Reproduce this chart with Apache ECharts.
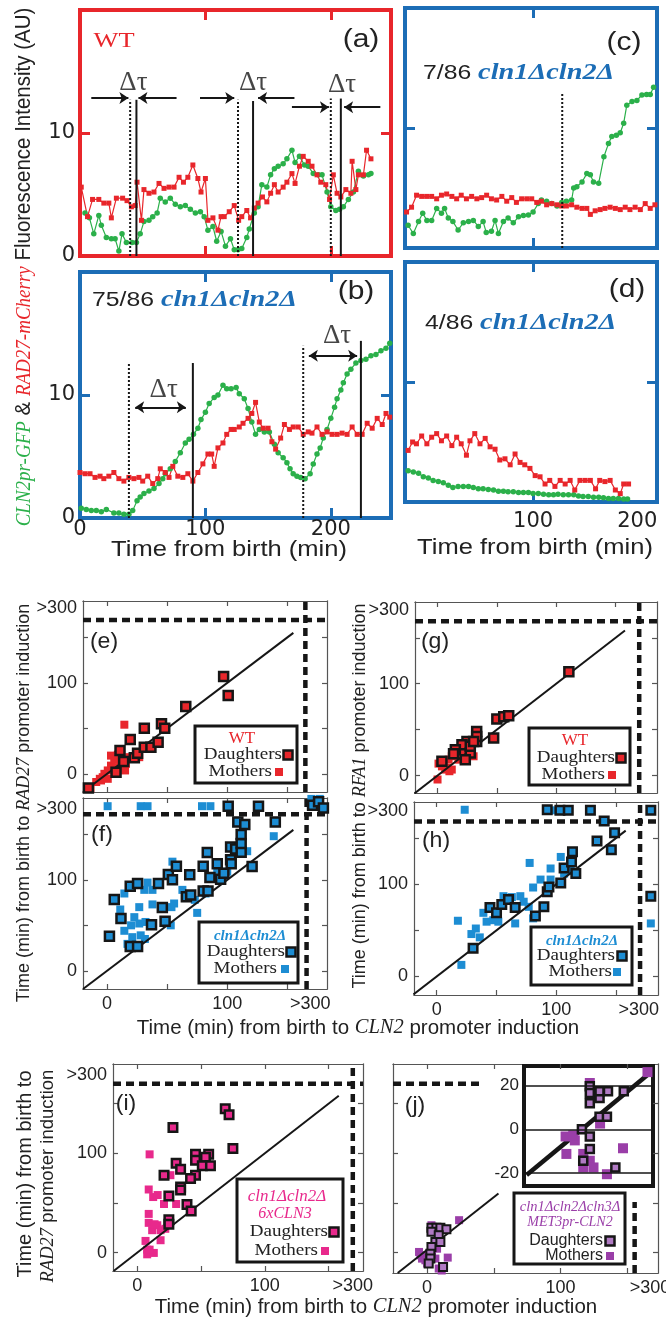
<!DOCTYPE html>
<html><head><meta charset="utf-8">
<script src="https://cdn.jsdelivr.net/npm/echarts@6/dist/echarts.min.js"></script>
<style>html,body{margin:0;padding:0;background:#fff}#c{width:666px;height:1328px}</style>
</head><body><div id="c"></div><script>
// ---------- time traces (min, AU) ----------
const aRed=[[1,5.6],[6,3.2],[10,4.6],[15,4.6],[19,4.3],[23,4.3],[25,3.1],[29,4.7],[34,4.7],[37.5,4.5],[41,4.0],[44,4.1],[45.5,6.0],[49,2.9],[51,5.4],[55,5.1],[59,5.2],[63,5.9],[67,5.5],[71,5.6],[75,5.6],[79,6.4],[82.5,6.0],[86,6.4],[90,7.4],[94,6.3],[96.5,5.2],[100,6.3],[102,2.9],[106,3.1],[110,2.1],[112.5,3.2],[115,3.2],[119,3.6],[123,4.1],[126.5,2.9],[129,3.2],[133,3.7],[136,3.1],[139,3.9],[142,4.3],[145.5,4.8],[149,4.4],[152,5.1],[155,5.8],[158,5.2],[162,5.6],[165,6.0],[169,6.7],[171.5,5.9],[175,7.3],[178,8.1],[182,7.7],[185,7.3],[189,6.6],[192,6.0],[196,5.8],[199,4.6],[202,6.6],[205,5.1],[208,4.8],[212,5.4],[216,5.1],[217,7.7],[220,5.4],[222,6.6],[226,6.6],[228.5,8.6],[232,7.9]];
const aGreen=[[4,3.5],[7.5,3.1],[11,1.8],[15,3.3],[17,2.5],[21,1.5],[25,1.4],[28,1.4],[31,0.4],[33.5,1.8],[37,1.1],[41.5,1.1],[45,1.1],[48,1.8],[51,2.8],[55,2.9],[58,3.2],[61.5,3.5],[64,4.7],[68,4.4],[72,4.7],[76,4.2],[80,4.0],[84,4.1],[88,3.8],[92,3.5],[96,3.6],[99,3.2],[102,2.1],[106,2.4],[109,1.2],[112.5,2.0],[116,0.8],[120,1.4],[123,0.5],[126,0.5],[129,0.6],[133,1.5],[135,2.2],[139,3.5],[142,4.0],[145,5.8],[149,5.6],[152,6.6],[155,7.1],[158,7.3],[162,7.5],[165,7.9],[169,8.6],[171.5,7.6],[175,8.1],[179,7.4],[182,7.3],[186,6.7],[190,6.6],[193,6.6],[197,5.2],[200,4.0],[204,3.7],[207,3.8],[210,4.0],[214,4.6],[218,5.2],[222,6.9],[226,6.5],[230,6.6],[232,6.7]];
const bRed=[[0,3.7],[4,3.6],[8,3.6],[12,3.3],[16,3.4],[19,3.2],[23,3.4],[27,3.7],[31,3.2],[35,3.0],[39,3.3],[43,3.2],[47,3.3],[50,3.0],[54,3.4],[58,2.8],[62,3.2],[64,4.0],[68,3.7],[71,3.3],[74,4.2],[78,3.4],[82,3.3],[86,3.6],[90,3.0],[94,3.7],[98,4.4],[102,5.2],[105,5.2],[107,4.2],[110,5.7],[114,6.1],[117,6.8],[120.5,7.2],[123,7.2],[127,7.4],[130,7.7],[134,8.1],[137,8.5],[140,9.4],[143,7.8],[146,7.3],[150,7.3],[153,6.2],[156,5.6],[160,6.5],[163,7.6],[167,7.2],[170,7.4],[174,7.4],[178,6.8],[182,7.0],[185,6.9],[189,7.4],[193,6.8],[197,7.0],[201,6.8],[205,6.8],[209,6.9],[213,6.8],[217,7.4],[221,6.8],[225,6.8],[229,7.7],[233,7.3],[237,8.1],[241,7.6],[244,8.5],[247,8.2]];
const bGreen=[[1,0.8],[5,0.7],[9,0.6],[13,0.6],[17,0.5],[21,0.7],[27,0.4],[31,0.4],[35,0.3],[39,0.3],[42,0.6],[45.5,1.4],[48,1.7],[51,2.0],[55,2.2],[59,2.4],[63,2.8],[66,3.2],[68,3.6],[72,4.0],[76,4.6],[80,5.3],[84,6.1],[87,6.4],[90.5,6.8],[94,7.3],[96.5,8.0],[100,8.6],[103,9.3],[107,9.8],[110,10.0],[114,10.8],[117,10.5],[120.5,10.5],[124.5,10.6],[127,10.1],[131,9.7],[134,8.9],[137,7.8],[140,6.8],[143,7.2],[147,7.0],[151,7.0],[155,6.0],[158,5.3],[162,4.9],[165,4.5],[167.5,4.0],[170,3.6],[173,3.4],[176,3.3],[179.5,3.2],[183.5,3.6],[186,4.4],[189,5.2],[191.5,5.7],[194,6.5],[197,7.2],[200,8.1],[203,9.0],[205,9.7],[208,10.4],[210,11.0],[213,11.7],[216,12.1],[220,12.6],[224,12.8],[228,12.9],[232,13.2],[236,13.3],[240,13.6],[244,13.8],[247,14.2]];
const cRed=[[-21.5,3.0],[-16.7,3.4],[-11.9,4.4],[-7,4.3],[-2.2,4.3],[2.6,4.3],[7.4,4.1],[12,4.4],[17,4.5],[22,4.3],[26.6,4.1],[31,4.4],[36,4.1],[41,4.3],[46,4.1],[50.6,4.2],[55.4,4.4],[60,4.1],[65,4.0],[70,4.3],[74.7,3.9],[79.5,4.2],[84,3.8],[89,4.1],[94,4.1],[98.7,4.1],[103.5,3.8],[108,3.9],[113,3.6],[118,3.7],[123,3.6],[127.5,3.5],[132,3.5],[137,3.6],[142,3.4],[147,3.3],[151.6,3.3],[155,2.8],[159.6,3.1],[164.4,3.2],[169,3.3],[174,3.4],[179,3.3],[183.7,3.2],[188.5,3.4],[193,3.2],[198,3.4],[203,3.2],[207.7,3.7],[212.5,3.3],[217,3.6]];
const cGreen=[[-20,1.9],[-15,1.2],[-10,2.2],[-6,2.9],[-2,2.3],[2.6,2.3],[7.4,3.3],[12,2.9],[15,3.3],[18.6,2.5],[23,2.2],[28,1.5],[33,2.1],[38,2.2],[42.6,2.3],[47.4,1.8],[52,2.2],[55,1.3],[60,1.4],[63.5,2.3],[66.7,1.2],[71.5,2.2],[76,2.5],[81,2.1],[86,2.6],[90.7,2.7],[95.5,2.75],[100,3.0],[105,3.7],[108,4.0],[113,3.9],[118,3.7],[123,3.5],[127.5,3.8],[132,3.9],[137,4.0],[139,5.0],[142,5.1],[147,5.5],[151.6,6.2],[155,6.1],[158,5.5],[163,5.4],[168,7.6],[172.4,8.7],[175.6,9.3],[180,9.4],[183.7,9.6],[187,10.4],[190,11.9],[195,12.2],[199.7,12.3],[204.5,12.75],[209,12.8],[212.5,12.8],[215.7,13.4]];
const dRed=[[-20,4.3],[-15.7,5.0],[-12,4.85],[-7,5.5],[-2,4.85],[2.6,5.4],[7.4,5.7],[12,5.1],[17,5.5],[22,4.7],[26.6,5.4],[31,4.85],[36,3.9],[39.4,5.1],[44,5.7],[49,4.85],[54,5.3],[58.7,4.6],[63.5,4.4],[68,3.5],[73,3.6],[78,3.1],[82.7,4.0],[87.5,3.3],[92,3.1],[97,2.8],[102,2.2],[106.7,2.1],[111.5,1.5],[116,1.8],[121,1.3],[126,1.8],[130.8,1.5],[135.6,1.8],[140,1.0],[145,1.8],[150,1.8],[155,1.8],[160,1.1],[164,1.8],[169,1.7],[174,1.8],[179,1.0],[183.7,0.7],[187,1.5],[191.7,1.5]];
const dGreen=[[-20,2.6],[-15,2.5],[-10,2.4],[-5.4,2.1],[-0.6,2.0],[4,1.8],[9,1.7],[13.8,1.6],[18.6,1.4],[23,1.2],[28,1.3],[33,1.3],[38,1.3],[42.6,1.2],[47.4,1.1],[52,1.1],[57,1.05],[62,1.0],[66.7,0.9],[71.5,0.9],[76,0.85],[81,0.85],[86,0.8],[90.7,0.8],[95.5,0.8],[100,0.7],[105,0.7],[110,0.65],[115,0.6],[119.6,0.6],[124,0.65],[129,0.6],[134,0.6],[139,0.6],[143.6,0.5],[148,0.45],[153,0.45],[158,0.4],[163,0.4],[167.6,0.35],[172.4,0.3],[177,0.3],[182,0.3],[187,0.25],[190.7,0.25]];
// Δτ annotations: [time, top], arrows [from, to, level], labels [time, level]
const dottedA=[[40,12.7],[126,12.7],[200,12.8]], solidA=[[45,12.7],[138,12.6],[208,12.8]];
const arrowsA=[[9,38.6,12.85],[77,46.6,12.85],[95.7,123,12.85],[171,142,12.85],[169,198.5,12.1],[239.5,210.6,12.1]];
const tauLabA=[[42.6,14.1],[138,14.1],[209,13.9]];
const dottedB=[[39,12.6],[178,14.0]], solidB=[[90,12.6],[224,14.4]];
const arrowsB=[[44,84.4,9],[182.5,221,13.2]];
const tauLabB=[[66.7,10.4],[205,14.8]];
const dottedC=[[128,12.9]];
// ---------- scatter (min); >300 plotted beyond the break ----------
const eD=[[-15.5,-15.7],[7.5,1.8],[10.8,25.6],[13.8,13.6],[19.3,37.7],[22.7,17.6],[25.4,22.7],[31,50],[31,29.3],[36.5,29.3],[42.5,34.8],[45.3,55],[48,50],[65.5,74],[97,107],[100.8,86]];
const eM=[[14.4,54],[-13.8,-15.7],[-9,-9],[-6,-5.5],[-3.6,-3.7],[-2.2,0],[0.6,3.7],[3.3,9],[6,15.4],[9,21],[12,15.4],[15,3.7],[15.7,11],[11.6,9],[7.5,7.3],[3.3,20],[-5,-7.3],[0.6,-5.5],[18.5,18.3],[26.8,18.3]];
const fD=[[2,38],[6,78.5],[11.6,57.4],[19.3,93],[19.3,26.7],[25.4,26.7],[25.4,96],[37,50.7],[42.8,96],[46,69.6],[48.3,54.4],[51,106],[54.4,100],[57.7,115],[68.8,105.5],[66,81.5],[69.6,83.3],[80,87.8],[84,87.8],[80,115],[83.4,130],[91.7,117.8],[85.6,102.6],[94.5,100.7],[97.2,107.4],[102.8,122],[102.8,136],[103.3,117.8],[107,134],[111.6,130.4],[111.6,140],[111.6,150],[108.8,163.7],[114.6,161],[120.7,114.8],[140,163.7],[100.8,181],[126,181],[171,182],[176,186],[180,179]];
const fM=[[0.5,181],[28,181],[33.7,181],[79,181],[86,181],[170,189],[177,189],[54.4,120],[33.7,97],[14.4,85],[11,67.4],[26.8,70],[31,89],[37.8,89],[37.8,73],[22.7,59],[14.4,44],[17,29.6],[21,37],[28,39],[31.5,35],[26.8,52],[32,53.7],[53,50],[53.6,70],[55.8,74],[62.7,89],[73,78],[75,63.7],[82,85],[91.7,111],[116.6,131.5],[138.7,148],[100,109],[105.5,129.6],[20,50]];
const gD=[[110.7,113],[50,61.7],[55.8,64],[60,65],[47.3,40.8],[33,48],[33,37],[24.8,37],[20.6,33.6],[27.6,24.5],[23.4,17.3],[15,28],[13.5,23.8],[3.7,15.5],[27.6,31.8],[33,42.6],[30.4,37]];
const gM=[[0,-4.3],[0.8,13],[3.7,10],[6.5,6.5],[10,4.7],[12,6.5],[9.3,17.3],[12,21],[16.3,24.5],[5,12],[7.9,8.3],[24.8,21],[27.6,24.5],[30.4,21],[20.6,26.4],[17.7,17.3]];
const hD=[[30.4,30.6],[44.5,74.8],[50,69],[54.4,78],[60,83.5],[65.6,74.8],[82.5,65.5],[89.6,75.5],[92.4,91.7],[93.8,97],[103.7,101.4],[106.5,117.6],[112.7,124],[113.5,135],[116.3,111.5],[134,146.8],[146,137.4],[148.7,155.8],[140,168.3],[92.4,180.6],[103,180],[110,180],[128.5,180],[179,180],[179,87]];
const hM=[[23.4,180.6],[98,180],[106.5,180],[17.7,60.4],[20.6,12.6],[29,46],[32.7,52],[36,42.4],[39,69],[41.7,59.4],[47.3,61],[51.5,59.4],[55.8,87],[62.8,86],[65.6,57.5],[69.9,87],[72.7,81],[76.9,75.5],[77.7,123],[80.6,96.4],[80.6,63],[86.8,105],[95.2,105],[95.2,117],[103.7,129.5],[106.5,111.5],[112,114.4],[179,57.5]];
const iD=[[28,126],[69,145],[72,139],[75,105],[45.7,99],[56,99],[53.5,96],[45.7,93],[30.5,90],[34,84],[51,87.5],[57.4,87.5],[21,78],[45.7,78],[41.8,74.7],[34,66],[34,63],[24.8,57],[39,48.5],[42.3,42],[24.8,33],[24.8,28.6]];
const iM=[[9.7,99],[9,63.6],[12.5,56],[16,58],[21,49],[30.5,49],[9,39],[9,30],[11.7,22.6],[15.7,27.6],[18.3,22.6],[22,24],[18.3,12.5],[6.5,11.8],[7.8,3],[7.8,-1.7],[13,-0.3],[9.7,3],[13.6,28.6],[26,78]];
const jD=[[3.3,25],[7,25],[10,25],[14.5,23.6],[3.3,21],[8.75,17.5],[6.25,10.8],[3.3,5.7],[2.5,-1],[2.5,-6],[1.25,-11],[12,-14.5],[10,10.8]];
const jM=[[24,32.7],[3.3,27.6],[-6,0.7],[-3.75,-6],[-1.25,-2.7],[-5,-2.7],[3.75,-2.7],[6.25,-6],[15.5,-5],[8.75,-16],[11,-18],[0,-11],[-1.25,-7.7],[7.5,4]];
const insD=[[3,19.7],[3,16.6],[3,11.9],[6.7,14.3],[6.7,17.4],[9.9,17.4],[15.9,17.4],[6.7,5.7],[9.5,5.7],[0,0],[3,-3.3],[3,-9],[0.5,-14.4],[12.7,-17.5]];
const insM=[[3,21.2],[24.9,26.2],[-6.2,-3.3],[-2.7,-5.1],[-5.9,-11.3],[0.5,-11.3],[3,-14.4],[0.5,-17.5],[9.5,-20.6],[6.9,2.6],[15.6,-8.7],[4.4,-17.5],[-3.3,-2.8]];
const insGrid=[-20,0,20];
// diagonal y=x guides and axis-break positions
const diagE=[[-20,-20],[155,155]], diagG=[[-19.5,-19.5],[158,158]], diagI=[[-18.5,-18.5],[158,158]], diagJ=[[-22,-20.5],[53.5,59.5]], diagIns=[[-21,-21],[25,25]];
const breakE=[165,169], breakF=[166,172], breakG=[170,168], breakH=[170,168], breakI=[169,170];
const breakJx=[155.5,51], breakJy=[170,42.5];
// tick labels
const topYLab=[0,10], topXLab=[0,100,200], cdXLab=[100,200];
const scTicks=[0,50,100,150];
const eYLab=[0,100,182], fYLab=[0,100,178], gYLab=[0,100,180], hYLab=[0,100,179], iYLab=[0,100,179];
const efXLab=[0,100,169], iXLab=[0,100,169], jXLab=[0,100,167];

// ---------- styles ----------
const RED='#e8262b', GREEN='#2bb04a', BLUEF='#1c6db6', BLUE='#1d8dd3', MAG='#e8298c', PUR='#9a3ea8', PURL='#b07ac3', INK='#161616';
const SANS='"Liberation Sans", Arial, sans-serif', SERIF='"Liberation Serif", "Times New Roman", serif', DSANS='"DejaVu Sans", sans-serif';
const fmt300 = v => (v > 150 ? '>300' : String(v));
const fmtPlain = v => String(v);

const grid=[], xAxis=[], yAxis=[], series=[];
function panel(p){
  const gi=grid.length;
  grid.push({left:p.box[0], top:p.box[1], width:p.box[2], height:p.box[3], show:!!p.bg, backgroundColor:p.bg||'transparent', borderWidth:0, containLabel:false, outerBoundsMode:'none'});
  const ls={color:p.frame, width:p.fw, cap:'square'}, ts={color:p.frame, width:p.tw};
  const lab=(vals,margin)=>vals?{show:true, customValues:vals, formatter:p.fmt||fmt300, color:'#222', fontFamily:p.font, fontSize:p.fs, margin:margin}:{show:false};
  const tick=vals=>vals&&vals.length?{show:true, inside:true, length:p.tl, customValues:vals, lineStyle:ts}:{show:false};
  const xi=xAxis.length, yi=yAxis.length;
  ['bottom','top'].forEach((pos,k)=>xAxis.push({type:'value', gridIndex:gi, position:pos, min:p.x[0], max:p.x[1], axisLine:{show:true,onZero:false,lineStyle:ls}, axisTick:tick(p.xt), axisLabel:k===0?lab(p.xl,p.xm):{show:false}, splitLine:{show:false}, axisPointer:{show:false}}));
  ['left','right'].forEach((pos,k)=>yAxis.push({type:'value', gridIndex:gi, position:pos, min:p.y[0], max:p.y[1], axisLine:{show:true,onZero:false,lineStyle:ls}, axisTick:tick(p.yt), axisLabel:k===0?lab(p.yl,p.ym):{show:false}, splitLine:{show:false}, axisPointer:{show:false}}));
  return {xAxisIndex:xi, yAxisIndex:yi};
}
const base={silent:true, animation:false};
function trace(ax,data,color,sym,size){series.push(Object.assign({type:'line',data,symbol:sym,symbolSize:size,showAllSymbol:true,lineStyle:{color,width:1.2},itemStyle:{color},z:3},base,ax));}
function seg(ax,data,w,type,z){series.push(Object.assign({type:'line',data,symbol:'none',lineStyle:{color:INK,width:w,type:type||'solid'},z:z||4},base,ax));}
function vlines(ax,arr,type){arr.forEach(v=>seg(ax,[[v[0],0],[v[0],v[1]]],2,type));}
function arrows(ax,arr,syms){series.push(Object.assign({type:'line',data:[],symbol:'none',z:5,markLine:{silent:true,symbol:syms,symbolSize:9,label:{show:false},lineStyle:{color:INK,width:2,type:'solid'},data:arr.map(a=>[{coord:[a[0],a[2]]},{coord:[a[1],a[2]]}])}},base,ax));}
function tauText(ax,arr){series.push(Object.assign({type:'scatter',data:arr,symbolSize:1,itemStyle:{color:'rgba(0,0,0,0)'},label:{show:true,position:'inside',formatter:'Δτ',fontFamily:SERIF,fontSize:27,color:INK},z:6},base,ax));}
function dots(ax,data,color,size,border,bw){series.push(Object.assign({type:'scatter',data,symbol:'rect',symbolSize:size,itemStyle:{color,borderColor:border?INK:color,borderWidth:border?(bw||2.5):0,opacity:1},z:border?4:3},base,ax));}

// ---------- panels a-d ----------
const topP={fw:4,tw:3,tl:10,font:DSANS,fs:21,xm:1,ym:5,fmt:fmtPlain};
const A=panel(Object.assign({box:[80,10,311,246],x:[0,248],y:[0,20],frame:RED,xt:[100,200],yt:[10],yl:topYLab},topP));
const B=panel(Object.assign({box:[80,272,311,246],x:[0,248],y:[0,20],frame:BLUEF,xt:[100,200],yt:[10],yl:topYLab,xl:topXLab},topP));
const C=panel(Object.assign({box:[405,8,252,240],x:[-23,219],y:[0,20],frame:BLUEF,xt:[100],yt:[10]},topP));
const D=panel(Object.assign({box:[405,262,252,240],x:[-23,219],y:[0,20],frame:BLUEF,xt:[100],yt:[10],xl:cdXLab},topP,{xm:9}));
[[A,aGreen,aRed],[B,bGreen,bRed],[C,cGreen,cRed],[D,dGreen,dRed]].forEach(([ax,g,r])=>{trace(ax,g,GREEN,'circle',5.5);trace(ax,r,RED,'rect',5);});
vlines(A,dottedA,[2,2]); vlines(A,solidA,'solid'); arrows(A,arrowsA,['none','arrow']); tauText(A,tauLabA);
vlines(B,dottedB,[2,2]); vlines(B,solidB,'solid'); arrows(B,arrowsB,['arrow','arrow']); tauText(B,tauLabB);
vlines(C,dottedC,[2,2]);

// ---------- scatter panels ----------
const scP={frame:'#555',fw:1.2,tw:1.2,tl:5,font:SANS,fs:18,xm:6,ym:6,xt:scTicks,yt:scTicks};
const E=panel(Object.assign({box:[83,601,244,191],x:[-20,183],y:[-20,190],yl:eYLab},scP));
const F=panel(Object.assign({box:[83,798,244,191],x:[-20,183],y:[-20,190],yl:fYLab,xl:efXLab},scP));
const G=panel(Object.assign({box:[415,602,242,191],x:[-19,185],y:[-19,189],yl:gYLab},scP));
const H=panel(Object.assign({box:[414,802,244,193],x:[-19,185],y:[-20,189],yl:hYLab,xl:efXLab},scP));
const I=panel(Object.assign({box:[113,1064,250,207],x:[-19,177],y:[-18.5,190],yl:iYLab,xl:iXLab},scP));
const J=panel(Object.assign({box:[393,1064,265,209],x:[-25.5,173],y:[-20.5,190],xl:jXLab},scP));
const K=panel({box:[524,1066,129,120],x:[-22,27],y:[-26,29],frame:INK,fw:4,tw:1,tl:0,font:SANS,fs:17,ym:5,yl:insGrid,bg:'#fff',fmt:fmtPlain});

const DASH=[8,5];
function breaks(ax,b,xr,yr){seg(ax,[[b[0],yr[0]],[b[0],yr[1]]],4.5,DASH,2);seg(ax,[[xr[0],b[1]],[xr[1],b[1]]],4.5,DASH,2);}
breaks(E,breakE,[-20,183],[-20,190]); breaks(F,breakF,[-20,183],[-20,190]);
breaks(G,breakG,[-19,185],[-19,189]); breaks(H,breakH,[-19,185],[-20,189]);
breaks(I,breakI,[-19,177],[-18.5,190]);
seg(J,[[breakJx[0],-20.5],[breakJx[0],breakJx[1]]],4.5,DASH,2); seg(J,[[-25.5,breakJy[0]],[breakJy[1],breakJy[0]]],4.5,DASH,2);
seg(E,diagE,2); seg(F,diagE,2); seg(G,diagG,2); seg(H,diagG,2); seg(I,diagI,2); seg(J,diagJ,2);
dots(E,eM,RED,8,false); dots(E,eD,RED,9,true);
dots(F,fM,BLUE,8,false); dots(F,fD,BLUE,9,true);
dots(G,gM,RED,8,false); dots(G,gD,RED,9,true);
dots(H,hM,BLUE,8,false); dots(H,hD,BLUE,8.5,true);
dots(I,iM,MAG,8,false); dots(I,iD,MAG,8.5,true);
dots(J,jM,PUR,8,false); dots(J,jD,PURL,8,true,2);
series.push(Object.assign({type:'line',data:[],symbol:'none',z:2,markLine:{silent:true,symbol:'none',label:{show:false},lineStyle:{color:INK,width:1.5,type:'solid'},data:insGrid.map(v=>({yAxis:v}))}},base,K));
seg(K,diagIns,4.5,'solid',3);
dots(K,insM,PUR,10,false); dots(K,insD,PURL,8,true,2.5);

// ---------- texts ----------
function T(x,y,text,font,fill,align,extra){return Object.assign({type:'text',x,y,z:100,silent:true,style:{text,font,fill,align:align||'center',verticalAlign:'middle',textAlign:align||'center',textVerticalAlign:'middle'}},extra||{});}
function R(x,y,text,rich,align,extra){return Object.assign({type:'text',x,y,z:100,silent:true,style:{text,rich,font:'18px '+SANS,fill:'#222',align:align||'center',verticalAlign:'middle',textAlign:align||'center',textVerticalAlign:'middle'}},extra||{});}
const rs=(fs,fill,fam,st,wt)=>({fontSize:fs,fill,fontFamily:fam,fontStyle:st||'normal',fontWeight:wt||'normal'});
const g=[];
// panels a-d
g.push(R(24,267,'{g|CLN2pr-GFP}{k| & }{r|RAD27-mCherry}{k| Fluorescence Intensity (AU)}',{g:rs(19,GREEN,SERIF,'italic'),r:rs(19,RED,SERIF,'italic'),k:rs(20.5,'#222',SANS)},'center',{rotation:Math.PI/2,scaleY:1.12}));
g.push(T(114,41,'WT','22px '+SERIF,RED,'center',{scaleX:1.2}));
g.push(T(361,40,'(a)','25px '+SANS,'#222','center',{scaleX:1.2}));
g.push(T(356,292,'(b)','25px '+SANS,'#222','center',{scaleX:1.2}));
g.push(T(624,43,'(c)','25px '+SANS,'#222','center',{scaleX:1.2}));
g.push(T(627,290,'(d)','25px '+SANS,'#222','center',{scaleX:1.2}));
const cln={a:rs(21,'#222',SANS),b:rs(24,BLUEF,SERIF,'italic','bold')};
g.push(R(92,300,'{a|75/86 }{b|cln1Δcln2Δ}',cln,'left',{scaleX:1.18}));
g.push(R(423,73,'{a|7/86 }{b|cln1Δcln2Δ}',cln,'left',{scaleX:1.18}));
g.push(R(425,323,'{a|4/86 }{b|cln1Δcln2Δ}',cln,'left',{scaleX:1.18}));
g.push(T(229,550,'Time from birth (min)','22px '+SANS,'#222','center',{scaleX:1.16}));
g.push(T(535,548,'Time from birth (min)','22px '+SANS,'#222','center',{scaleX:1.16}));
// scatter panel labels
[['(e)',104,642],['(f)',102,835],['(g)',435,642],['(h)',436,841],['(i)',126,1104],['(j)',415,1106]].forEach(a=>g.push(T(a[1],a[2],a[0],'22px '+SANS,'#222','center',{scaleX:1.05})));
const tt=fs=>({k:rs(fs,'#222',SANS),c:rs(fs,'#222',SERIF,'italic')});
g.push(R(24,803,'{k|Time (min) from birth to }{c|RAD27}{k| promoter induction}',tt(18),'center',{rotation:Math.PI/2}));
g.push(R(360,796,'{k|Time (min) from birth to }{c|RFA1}{k| promoter induction}',tt(18),'center',{rotation:Math.PI/2}));
g.push(R(358,1028,'{k|Time (min) from birth to }{c|CLN2}{k| promoter induction}',tt(20.5),'center'));
g.push(R(376,1307,'{k|Time (min) from birth to }{c|CLN2}{k| promoter induction}',tt(20.5),'center'));
g.push(R(25,1174,'{k|Time (min) from birth to}',tt(20),'center',{rotation:Math.PI/2}));
g.push(R(48,1176,'{c|RAD27}{k| promoter induction}',tt(18.5),'center',{rotation:Math.PI/2}));
// legends
function legend(box,heads,dRow,mRow,dFill,mFill,txtFont,sx){
  g.push({type:'rect',z:98,silent:true,shape:{x:box[0],y:box[1],width:box[2],height:box[3]},style:{fill:'#fff',stroke:INK,lineWidth:3}});
  heads.forEach(h=>g.push(T(h[0],h[1],h[2],h[3],h[4],'center')));
  g.push(T(dRow[0],dRow[1],'Daughters',txtFont,'#222','right',{scaleX:sx}));
  g.push(T(mRow[0],mRow[1],'Mothers',txtFont,'#222','right',{scaleX:sx}));
  g.push({type:'rect',z:101,silent:true,shape:{x:dRow[2]-4.5,y:dRow[1]-4.5,width:9,height:9},style:{fill:dFill,stroke:INK,lineWidth:2.5}});
  g.push({type:'rect',z:101,silent:true,shape:{x:mRow[2]-4,y:mRow[1]-4,width:8,height:8},style:{fill:mFill}});
}
const LF='17px '+SERIF;
legend([195,726,102,57],[[242,739,'WT','17px '+SERIF,RED]],[282,755,288],[272,772,279],RED,RED,LF,1.12);
legend([199,922,99,61],[[250,936,'cln1Δcln2Δ','italic bold 15px '+SERIF,BLUE]],[285,952,291],[277,969,285],BLUE,BLUE,LF,1.12);
legend([529,728,101,57],[[575,741,'WT','17px '+SERIF,RED]],[615,758,621],[605,775,612],RED,RED,LF,1.12);
legend([531,927,101,58],[[582,941,'cln1Δcln2Δ','italic bold 15px '+SERIF,BLUE]],[615,956,622],[612,972,617],BLUE,BLUE,LF,1.12);
legend([237,1179,106,83],[[287,1197,'cln1Δcln2Δ','italic 17px '+SERIF,MAG],[285,1214,'6xCLN3','italic 16px '+SERIF,MAG]],[328,1232,334],[318,1251,325],MAG,MAG,LF,1.12);
legend([514,1193,111,71],[[570,1207,'cln1Δcln2Δcln3Δ','italic 14.5px '+SERIF,PUR],[570,1222,'MET3pr-CLN2','italic 14px '+SERIF,PUR]],[603,1241,610],[603,1256,610],PURL,PUR,'16px '+SANS,1.0);

const chart=echarts.init(document.getElementById('c'),null,{renderer:'canvas'});
chart.setOption({animation:false,backgroundColor:'#fff',grid,xAxis,yAxis,series,graphic:{elements:g}});
</script></body></html>
